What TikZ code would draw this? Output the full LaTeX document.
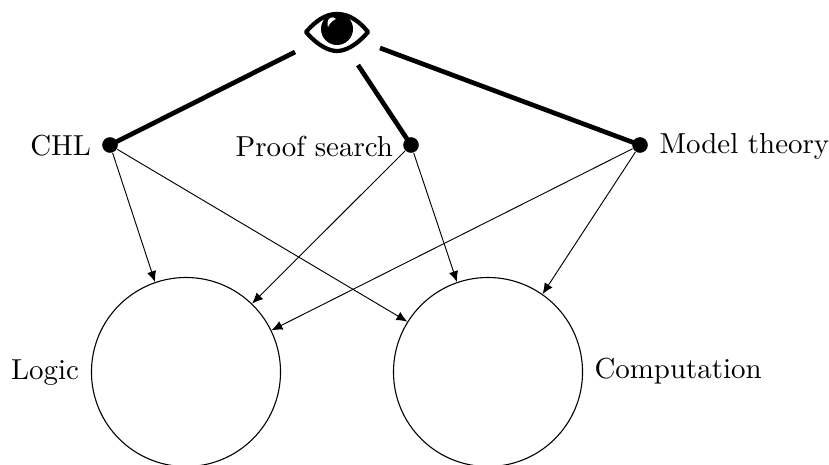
\documentclass[tikz,border=0pt]{standalone}
\usetikzlibrary{arrows.meta}
\begin{document}
\begin{tikzpicture}[x=0.32pt,y=-0.32pt,
  ball/.style={circle,fill=black,inner sep=0pt,minimum size=5pt},
  big/.style={circle,draw=black,line width=0.35pt,inner sep=0pt,minimum size=60.5pt},
  heavy/.style={line width=1.5pt},
  thin arrow/.style={line width=0.3pt,-{Latex[length=3.5pt,width=3pt]}},
  lab/.style={inner sep=0pt,scale=0.925}]
\clip (0,0) rectangle (829,464);
\node[big] (logic) at (186,372) {};
\node[big] (comp) at (488,372) {};
\node[ball] (chl) at (110,145) {};
\node[ball] (proof) at (411,145) {};
\node[ball] (model) at (640,145) {};
\node[lab,anchor=east] (tchl) at (91.5,146) {CHL};
\node[lab,anchor=east] (tproof) at (393.5,146) {Proof search};
\node[lab,anchor=west] (tmodel) at (659,146) {Model theory};
\node[lab,anchor=east] (tlogic) at (79.5,373) {Logic};
\node[lab,anchor=west] (tcomp) at (594,371) {Computation};
\coordinate (e1) at (295,52);
\coordinate (e2) at (358,65);
\coordinate (e3) at (380,48);
\draw[heavy] (e1) -- (chl.center);
\draw[heavy] (e2) -- (proof.center);
\draw[heavy] (e3) -- (model.center);
\draw[thin arrow] (chl) -- (logic.109);
\draw[thin arrow] (chl) -- (comp.148);
\draw[thin arrow] (proof) -- (logic.46);
\draw[thin arrow] (proof) -- (comp.109);
\draw[thin arrow] (model) -- (logic.26.6);
\draw[thin arrow] (model) -- (comp.55.6);
% eye
\draw[line width=1.35pt,line join=round] (306,32) .. controls (320,16) and (330,14) .. (337,14) .. controls (344,14) and (355,16) .. (368,32) .. controls (355,47) and (344,51) .. (337,51) .. controls (330,51) and (319,47) .. (306,32) -- cycle;
\fill (337,29) circle[radius=16];
\fill[white] (330,18) .. controls (326,20) and (328,27) .. (328,27) .. controls (330,23) and (332,21) .. (336,19) .. controls (335,17) and (332,17) .. (330,18) -- cycle;
\end{tikzpicture}
\end{document}
